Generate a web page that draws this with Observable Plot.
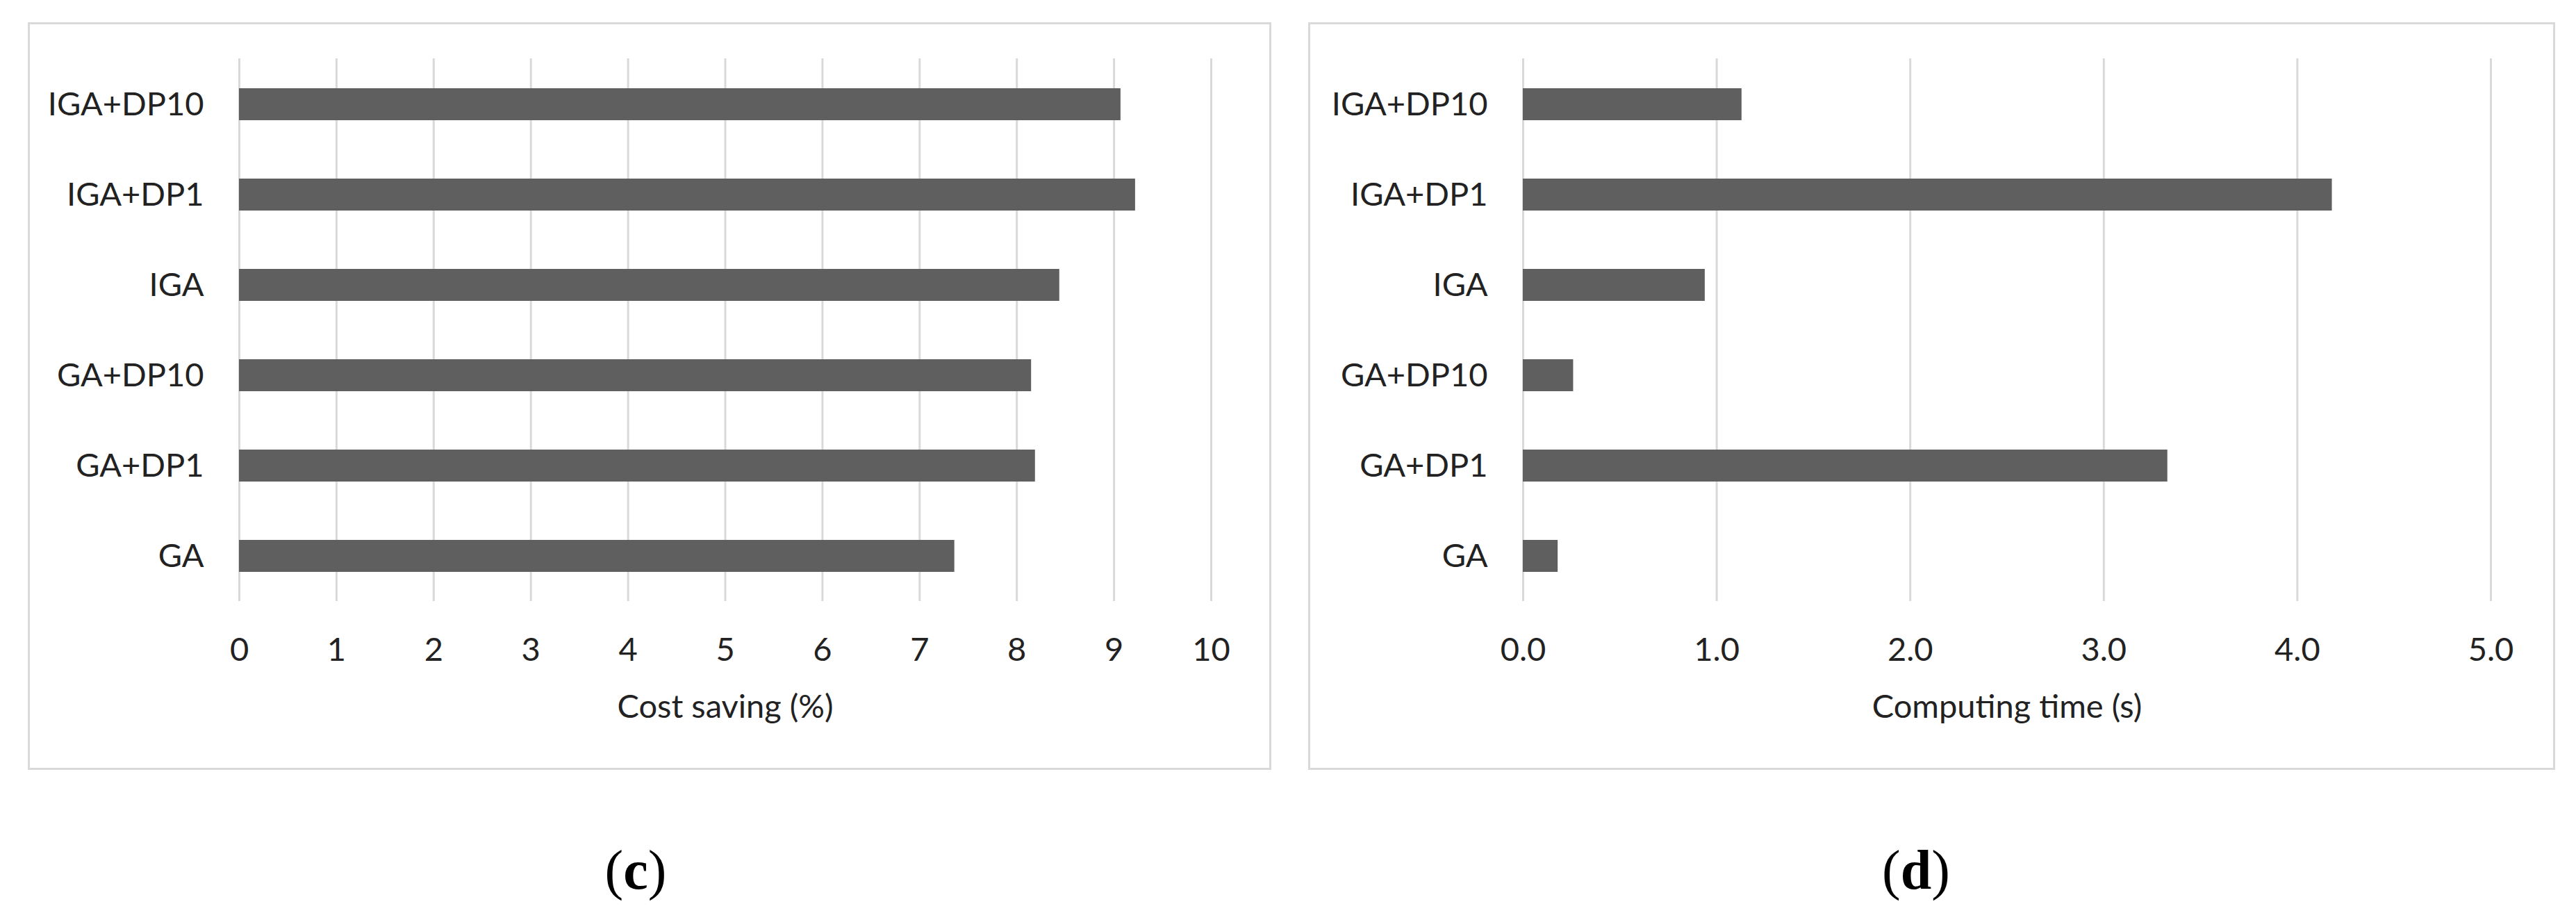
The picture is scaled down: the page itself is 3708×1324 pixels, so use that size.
<!DOCTYPE html>
<html>
<head>
<meta charset="utf-8">
<script src="https://cdn.jsdelivr.net/npm/d3@7"></script>
<script src="https://cdn.jsdelivr.net/npm/@observablehq/plot@0.6"></script>
<style>
  html, body { margin: 0; padding: 0; background: #fff; }
  #page { position: relative; width: 3708px; height: 1324px; background: #fff; overflow: hidden; }
  .panel { position: absolute; box-sizing: border-box; border: 3px solid #d9d9d9; background: #fff; }
  .chart { position: absolute; }
  .caption { position: absolute; transform: translate(-50%, -50%); font-family: "Liberation Serif", "DejaVu Serif", serif; font-size: 80px; line-height: 1; color: #000; white-space: nowrap; }
  .caption b { font-weight: bold; }
</style>
</head>
<body>
<div id="page">
  <div class="panel" style="left:40px; top:32px; width:1790px; height:1076px;"></div>
  <div class="panel" style="left:1883px; top:32px; width:1795px; height:1076px;"></div>
  <div class="chart" id="chartC" style="left:40px; top:32px;"></div>
  <div class="chart" id="chartD" style="left:1883px; top:32px;"></div>
  <div class="caption" style="left:915px; top:1252px;">(<b>c</b>)</div>
  <div class="caption" style="left:2758px; top:1252px;">(<b>d</b>)</div>
</div>
<script>
// Categories, bottom to top as in the original chart
const methods = ["GA", "GA+DP1", "GA+DP10", "IGA", "IGA+DP1", "IGA+DP10"];
// Panel (c): cost saving (%)
const costSaving = [7.36, 8.19, 8.15, 8.44, 9.22, 9.07];
// Panel (d): computing time (s)
const computingTime = [0.18, 3.33, 0.26, 0.94, 4.18, 1.13];
// Tick values
const ticksC = [0, 1, 2, 3, 4, 5, 6, 7, 8, 9, 10];
const ticksD = [0, 1, 2, 3, 4, 5];
const labelC = "Cost saving (%)";
const labelD = "Computing time (s)";

const font = "Lato, 'Open Sans', sans-serif";
const textColor = "#222222";
const barColor = "#5f5f5f";
const gridColor = "#d9d9d9";
const yDomain = methods.slice().reverse();

function makeChart({values, ticks, domain, tickFormat, label, width, marginLeft, marginRight}) {
  const data = methods.map((m, i) => ({method: m, value: values[i]}));
  return Plot.plot({
    width,
    height: 1076,
    marginLeft,
    marginRight,
    marginTop: 52,
    marginBottom: 243,
    style: {fontFamily: font, fontSize: "47px", color: textColor, background: "transparent", overflow: "visible"},
    x: {domain, ticks},
    y: {domain: yDomain, paddingInner: 0.65, paddingOuter: 0.325},
    marks: [
      Plot.gridX(ticks, {stroke: gridColor, strokeOpacity: 1, strokeWidth: 3}),
      Plot.barX(data, {x: "value", y: "method", fill: barColor}),
      Plot.axisX(ticks, {tickSize: 0, tickPadding: 52, tickFormat, label: null, fontSize: 47, fill: textColor}),
      Plot.axisY({tickSize: 0, tickPadding: 51, label: null, fontSize: 47, fill: textColor}),
      Plot.text([label], {text: d => d, frameAnchor: "bottom", dy: 152, lineAnchor: "middle", fontSize: 47, fill: textColor})
    ]
  });
}

document.getElementById("chartC").appendChild(makeChart({
  values: costSaving, ticks: ticksC, domain: [0, 10], tickFormat: d3.format("d"),
  label: labelC, width: 1790, marginLeft: 304, marginRight: 87
}));
document.getElementById("chartD").appendChild(makeChart({
  values: computingTime, ticks: ticksD, domain: [0, 5], tickFormat: d3.format(".1f"),
  label: labelD, width: 1795, marginLeft: 309, marginRight: 93
}));
</script>
</body>
</html>
